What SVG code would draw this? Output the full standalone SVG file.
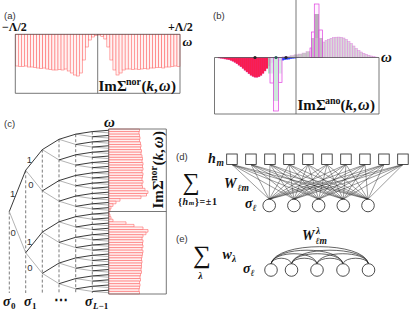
<svg xmlns="http://www.w3.org/2000/svg" width="415" height="311" viewBox="0 0 415 311">
<style>
.pl{font-family:"Liberation Sans",Arial,sans-serif;font-size:9.5px;fill:#333}
.m{font-family:"Liberation Serif","Times New Roman",serif;font-weight:bold;fill:#111}
.i{font-style:italic}
.sm{font-family:"Liberation Serif","DejaVu Serif",serif;fill:#111}
.fr{fill:none;stroke:#555;stroke-width:0.8}
.ba rect{fill:#fff2f2;stroke:#ff5a5a;stroke-width:0.5}
.bc rect{fill:#fff2f2;stroke:#ff5a5a;stroke-width:0.55;vector-effect:non-scaling-stroke}
.r rect{fill:#ff1a3c;stroke:#e0309a;stroke-width:0.4}
.bl rect{fill:#2a3cff;stroke:#4060ff;stroke-width:0.3}
.mg{fill:#fbeefb;fill-opacity:0.6;stroke:#e040e0;stroke-width:0.7}
.gy rect{fill:#9a9a9a;fill-opacity:0.55;stroke:#dca0dc;stroke-width:0.4}
.hu rect{fill:#d2d2d2;fill-opacity:0.85;stroke:#e288e2;stroke-width:0.5}
.tb{fill:none;stroke:#222;stroke-width:0.9;vector-effect:non-scaling-stroke}
.tg{fill:none;stroke:#aaa;stroke-width:0.9;vector-effect:non-scaling-stroke}
.ds{fill:none;stroke:#444;stroke-width:0.7;stroke-dasharray:3 2}
.nd{fill:#fff;stroke:#222;stroke-width:0.8}
.cn{fill:none;stroke:#222;stroke-width:0.45}
.ar{fill:none;stroke:#222;stroke-width:0.7}
</style>

<!-- panel (a) -->
<text class="pl" x="4" y="19">(a)</text>
<text class="m" font-size="12" x="2" y="30.5">−Λ/2</text>
<text class="m" font-size="12" x="168" y="30.5">+Λ/2</text>
<text class="m i" font-size="13.5" x="182.5" y="45.5">ω</text>
<g class="ba">
<rect x="15.3" y="34.3" width="3.05" height="31.7"/><rect x="18.35" y="34.3" width="3.05" height="32.2"/><rect x="21.4" y="34.3" width="3.05" height="32.2"/><rect x="24.45" y="34.3" width="3.05" height="31.7"/><rect x="27.5" y="34.3" width="3.05" height="32.7"/><rect x="30.55" y="34.3" width="3.05" height="32.7"/><rect x="33.6" y="34.3" width="3.05" height="33.2"/><rect x="36.65" y="34.3" width="3.05" height="33.7"/><rect x="39.7" y="34.3" width="3.05" height="34.2"/><rect x="42.75" y="34.3" width="3.05" height="33.7"/><rect x="45.8" y="34.3" width="3.05" height="34.7"/><rect x="48.85" y="34.3" width="3.05" height="35.2"/><rect x="51.9" y="34.3" width="3.05" height="35.7"/><rect x="54.95" y="34.3" width="3.05" height="35.7"/><rect x="58" y="34.3" width="3.05" height="35.2"/><rect x="61.05" y="34.3" width="3.05" height="35.7"/><rect x="64.1" y="34.3" width="3.05" height="34.7"/><rect x="67.15" y="34.3" width="3.05" height="36.7"/><rect x="70.2" y="34.3" width="3.05" height="38.7"/><rect x="73.25" y="34.3" width="3.05" height="40.7"/><rect x="76.3" y="34.3" width="3.05" height="41.7"/><rect x="79.35" y="34.3" width="3.05" height="38.7"/><rect x="82.4" y="34.3" width="3.05" height="25.7"/><rect x="85.45" y="34.3" width="3.05" height="12.7"/><rect x="88.5" y="34.3" width="3.05" height="5.7"/><rect x="91.55" y="34.3" width="3.05" height="2.7"/><rect x="94.6" y="34.3" width="3.05" height="1.2"/>
<rect x="97.7" y="34.3" width="3.05" height="0.7"/><rect x="100.75" y="34.3" width="3.05" height="2.2"/><rect x="103.8" y="34.3" width="3.05" height="4.7"/><rect x="106.85" y="34.3" width="3.05" height="12.7"/><rect x="109.9" y="34.3" width="3.05" height="25.7"/><rect x="112.95" y="34.3" width="3.05" height="35.7"/><rect x="116" y="34.3" width="3.05" height="40.7"/><rect x="119.05" y="34.3" width="3.05" height="38.7"/><rect x="122.1" y="34.3" width="3.05" height="35.7"/><rect x="125.15" y="34.3" width="3.05" height="34.7"/><rect x="128.2" y="34.3" width="3.05" height="34.7"/><rect x="131.25" y="34.3" width="3.05" height="35.2"/><rect x="134.3" y="34.3" width="3.05" height="34.7"/><rect x="137.35" y="34.3" width="3.05" height="35.2"/><rect x="140.4" y="34.3" width="3.05" height="34.7"/><rect x="143.45" y="34.3" width="3.05" height="34.2"/><rect x="146.5" y="34.3" width="3.05" height="34.7"/><rect x="149.55" y="34.3" width="3.05" height="33.7"/><rect x="152.6" y="34.3" width="3.05" height="33.7"/><rect x="155.65" y="34.3" width="3.05" height="33.2"/><rect x="158.7" y="34.3" width="3.05" height="33.2"/><rect x="161.75" y="34.3" width="3.05" height="33.7"/><rect x="164.8" y="34.3" width="3.05" height="32.7"/><rect x="167.85" y="34.3" width="3.05" height="32.7"/><rect x="170.9" y="34.3" width="3.05" height="32.2"/><rect x="173.95" y="34.3" width="3.05" height="31.7"/><rect x="177" y="34.3" width="3" height="32.2"/>
</g>
<path class="fr" d="M15.3 34.3H180V93.3H15.3ZM97.7 34.3V93.3"/>
<g transform="translate(98.5 90.5)"><text class="m" font-size="15"><tspan x="0" y="0">Im</tspan><tspan x="18.4" y="0">Σ</tspan><tspan x="27.5" y="-6" font-size="10">nor</tspan><tspan x="43" y="0">(</tspan><tspan x="48" y="0" class="i">k</tspan><tspan x="55.5" y="0">,</tspan><tspan x="60.5" y="0" class="i" font-size="16">ω</tspan><tspan x="72.5" y="0">)</tspan></text></g>

<!-- panel (b) -->
<text class="pl" x="213" y="19">(b)</text>
<g class="r">
<rect x="218" y="57.5" width="2" height="0.5"/><rect x="220" y="57.5" width="2" height="0.8"/><rect x="222" y="57.5" width="2" height="1.1"/><rect x="224" y="57.5" width="2" height="1.5"/><rect x="226" y="57.5" width="2" height="1.9"/><rect x="228" y="57.5" width="2" height="2.3"/><rect x="230" y="57.5" width="2" height="3"/><rect x="232" y="57.5" width="2" height="3.8"/><rect x="234" y="57.5" width="2" height="5"/><rect x="236" y="57.5" width="2" height="6.3"/><rect x="238" y="57.5" width="2" height="7.7"/><rect x="240" y="57.5" width="2" height="9.3"/><rect x="242" y="57.5" width="2" height="11"/><rect x="244" y="57.5" width="2" height="12.8"/><rect x="246" y="57.5" width="2" height="14.5"/><rect x="248" y="57.5" width="2" height="16.3"/><rect x="250" y="57.5" width="2" height="17.8"/><rect x="252" y="57.5" width="2" height="19"/><rect x="254" y="57.5" width="2" height="19.7"/><rect x="256" y="57.5" width="2" height="19.8"/><rect x="258" y="57.5" width="2" height="19.3"/><rect x="260" y="57.5" width="2" height="18"/><rect x="262" y="57.5" width="2" height="16"/><rect x="264" y="57.5" width="2" height="13.5"/><rect x="266" y="57.5" width="2" height="11"/><rect x="268" y="57.5" width="2" height="8.5"/><rect x="270" y="57.5" width="2" height="5.5"/>
</g>
<g class="bl">
<rect x="272" y="57.5" width="2" height="5"/><rect x="274" y="57.5" width="2" height="4.5"/><rect x="276" y="57.5" width="2" height="4"/><rect x="278" y="57.5" width="2" height="3.5"/><rect x="280" y="57.5" width="2" height="3.1"/><rect x="282" y="57.5" width="2" height="2.7"/><rect x="284" y="57.5" width="2" height="2.3"/><rect x="286" y="57.5" width="2" height="2"/><rect x="288" y="57.5" width="2" height="1.7"/><rect x="290" y="57.5" width="2" height="1.3"/><rect x="292" y="57.5" width="2" height="1"/><rect x="294" y="57.5" width="2" height="0.7"/><rect x="296" y="57.5" width="2" height="0.4"/><rect x="298" y="57.5" width="2" height="0.2"/>
</g>
<rect x="268" y="57.5" width="14" height="16" fill="#9ee8bc" fill-opacity="0.85"/>
<rect class="mg" x="270" y="57.5" width="3.5" height="25.5"/>
<rect class="mg" x="278.5" y="57.5" width="3.5" height="25"/>
<rect x="273.5" y="57.5" width="5" height="43.5" fill="#86e0a8"/>
<rect class="mg" x="273.5" y="57.5" width="5" height="53.5" fill="none"/>
<g class="gy">
<rect x="282" y="56.8" width="4" height="0.7"/><rect x="286" y="56.2" width="4" height="1.3"/><rect x="290" y="55.5" width="4" height="2"/><rect x="294" y="54.8" width="4" height="2.7"/><rect x="298" y="54" width="4" height="3.5"/><rect x="302" y="53" width="4" height="4.5"/><rect x="306" y="51.5" width="4" height="6"/>
</g>
<g class="hu">
<rect x="322.5" y="42" width="2.5" height="15.5"/><rect x="325" y="40.5" width="2.5" height="17"/><rect x="327.5" y="39.3" width="2.5" height="18.2"/><rect x="330" y="38.3" width="2.5" height="19.2"/><rect x="332.5" y="37.6" width="2.5" height="19.9"/><rect x="335" y="37.2" width="2.5" height="20.3"/><rect x="337.5" y="37.1" width="2.5" height="20.4"/><rect x="340" y="37.3" width="2.5" height="20.2"/><rect x="342.5" y="38" width="2.5" height="19.5"/><rect x="345" y="39.5" width="2.5" height="18"/><rect x="347.5" y="41.5" width="2.5" height="16"/><rect x="350" y="43.5" width="2.5" height="14"/><rect x="352.5" y="46" width="2.5" height="11.5"/><rect x="355" y="48.5" width="2.5" height="9"/><rect x="357.5" y="50.5" width="2.5" height="7"/><rect x="360" y="52" width="2.5" height="5.5"/><rect x="362.5" y="53.3" width="2.5" height="4.2"/><rect x="365" y="54.3" width="2.5" height="3.2"/><rect x="367.5" y="55.2" width="2.5" height="2.3"/><rect x="370" y="56" width="2.5" height="1.5"/><rect x="372.5" y="56.7" width="2.5" height="0.8"/><rect x="375" y="57.1" width="2.5" height="0.4"/>
</g>
<rect class="mg" x="310" y="48" width="2" height="9.5"/>
<rect x="311.5" y="38" width="11" height="19.5" fill="#5a5a5a" fill-opacity="0.85"/>
<rect x="314.5" y="14" width="4.5" height="24" fill="#555"/>
<rect class="mg" x="311.5" y="32" width="3" height="25.5" fill="none"/>
<rect class="mg" x="314.3" y="4" width="4.7" height="53.5" fill="none"/>
<rect class="mg" x="319" y="30" width="3.5" height="27.5" fill="none"/>
<path class="fr" d="M214.5 57.5H379M214.5 57.5V114H379V57.5M296 0V114"/>
<circle cx="255" cy="57.5" r="1.6" fill="#222"/>
<circle cx="276" cy="57.5" r="1.6" fill="#2a5a5a"/>
<circle cx="286" cy="57.5" r="1.6" fill="#223"/>
<text class="m i" font-size="15" x="381" y="61.7">ω</text>
<g transform="translate(297.5 110)"><text class="m" font-size="15"><tspan x="0" y="0">Im</tspan><tspan x="18.4" y="0">Σ</tspan><tspan x="27.5" y="-6" font-size="10">ano</tspan><tspan x="43" y="0">(</tspan><tspan x="48" y="0" class="i">k</tspan><tspan x="55.5" y="0">,</tspan><tspan x="60.5" y="0" class="i" font-size="16">ω</tspan><tspan x="72.5" y="0">)</tspan></text></g>

<!-- panel (c) -->
<text class="pl" x="4" y="127">(c)</text>
<text class="m i" font-size="15" x="104" y="126.5">ω</text>
<path class="ds" d="M9.3 211.5V293M25.7 170.3V293M42.3 149.6V293M59 139.3V293M75.7 134.2V293M92.3 131.6V293"/>
<g transform="translate(0 129) scale(1 2.578125)">
<g class="bc">
<rect x="108.7" y="0" width="30.8" height="1"/><rect x="108.7" y="1" width="30.3" height="1"/><rect x="108.7" y="2" width="30.8" height="1"/><rect x="108.7" y="3" width="31.3" height="1"/><rect x="108.7" y="4" width="30.8" height="1"/><rect x="108.7" y="5" width="31.8" height="1"/><rect x="108.7" y="6" width="32.3" height="1"/><rect x="108.7" y="7" width="31.8" height="1"/><rect x="108.7" y="8" width="32.8" height="1"/><rect x="108.7" y="9" width="32.3" height="1"/><rect x="108.7" y="10" width="33.3" height="1"/><rect x="108.7" y="11" width="33.8" height="1"/><rect x="108.7" y="12" width="33.3" height="1"/><rect x="108.7" y="13" width="34.3" height="1"/><rect x="108.7" y="14" width="33.8" height="1"/><rect x="108.7" y="15" width="34.3" height="1"/><rect x="108.7" y="16" width="33.3" height="1"/><rect x="108.7" y="17" width="34.3" height="1"/><rect x="108.7" y="18" width="33.8" height="1"/><rect x="108.7" y="19" width="33.3" height="1"/><rect x="108.7" y="20" width="34.3" height="1"/><rect x="108.7" y="21" width="33.3" height="1"/><rect x="108.7" y="22" width="33.8" height="1"/><rect x="108.7" y="23" width="36.3" height="1"/><rect x="108.7" y="24" width="39.3" height="1"/><rect x="108.7" y="25" width="37.8" height="1"/><rect x="108.7" y="26" width="32.3" height="1"/><rect x="108.7" y="27" width="11.3" height="1"/><rect x="108.7" y="28" width="7.3" height="1"/><rect x="108.7" y="29" width="4.3" height="1"/><rect x="108.7" y="30" width="2.3" height="1"/><rect x="108.7" y="31" width="1.3" height="1"/>
<rect x="108.7" y="32" width="0.3" height="1"/><rect x="108.7" y="33" width="1.3" height="1"/><rect x="108.7" y="34" width="2.3" height="1"/><rect x="108.7" y="35" width="4.3" height="1"/><rect x="108.7" y="36" width="17.3" height="1"/><rect x="108.7" y="37" width="25.3" height="1"/><rect x="108.7" y="38" width="34.3" height="1"/><rect x="108.7" y="39" width="39.3" height="1"/><rect x="108.7" y="40" width="37.3" height="1"/><rect x="108.7" y="41" width="34.3" height="1"/><rect x="108.7" y="42" width="33.3" height="1"/><rect x="108.7" y="43" width="34.3" height="1"/><rect x="108.7" y="44" width="33.8" height="1"/><rect x="108.7" y="45" width="34.3" height="1"/><rect x="108.7" y="46" width="33.3" height="1"/><rect x="108.7" y="47" width="34.3" height="1"/><rect x="108.7" y="48" width="33.8" height="1"/><rect x="108.7" y="49" width="33.3" height="1"/><rect x="108.7" y="50" width="32.8" height="1"/><rect x="108.7" y="51" width="33.3" height="1"/><rect x="108.7" y="52" width="32.8" height="1"/><rect x="108.7" y="53" width="32.8" height="1"/><rect x="108.7" y="54" width="32.3" height="1"/><rect x="108.7" y="55" width="32.8" height="1"/><rect x="108.7" y="56" width="31.8" height="1"/><rect x="108.7" y="57" width="31.3" height="1"/><rect x="108.7" y="58" width="31.8" height="1"/><rect x="108.7" y="59" width="30.8" height="1"/><rect x="108.7" y="60" width="31.3" height="1"/><rect x="108.7" y="61" width="30.8" height="1"/><rect x="108.7" y="62" width="30.3" height="1"/><rect x="108.7" y="63" width="30.8" height="1"/>
</g>
<g id="tree">
<path class="tg" d="M9.3 32l16.4 16M25.7 16l16.6 8M25.7 48l16.6 8M42.3 8l16.7 4M42.3 24l16.7 4M42.3 40l16.7 4M42.3 56l16.7 4M59 4l16.7 2M59 12l16.7 2M59 20l16.7 2M59 28l16.7 2M59 36l16.7 2M59 44l16.7 2M59 52l16.7 2M59 60l16.7 2M75.7 2l16.6 1M75.7 6l16.6 1M75.7 10l16.6 1M75.7 14l16.6 1M75.7 18l16.6 1M75.7 22l16.6 1M75.7 26l16.6 1M75.7 30l16.6 1M75.7 34l16.6 1M75.7 38l16.6 1M75.7 42l16.6 1M75.7 46l16.6 1M75.7 50l16.6 1M75.7 54l16.6 1M75.7 58l16.6 1M75.7 62l16.6 1M92.3 1l16.4 .5M92.3 3l16.4 .5M92.3 5l16.4 .5M92.3 7l16.4 .5M92.3 9l16.4 .5M92.3 11l16.4 .5M92.3 13l16.4 .5M92.3 15l16.4 .5M92.3 17l16.4 .5M92.3 19l16.4 .5M92.3 21l16.4 .5M92.3 23l16.4 .5M92.3 25l16.4 .5M92.3 27l16.4 .5M92.3 29l16.4 .5M92.3 31l16.4 .5M92.3 33l16.4 .5M92.3 35l16.4 .5M92.3 37l16.4 .5M92.3 39l16.4 .5M92.3 41l16.4 .5M92.3 43l16.4 .5M92.3 45l16.4 .5M92.3 47l16.4 .5M92.3 49l16.4 .5M92.3 51l16.4 .5M92.3 53l16.4 .5M92.3 55l16.4 .5M92.3 57l16.4 .5M92.3 59l16.4 .5M92.3 61l16.4 .5M92.3 63l16.4 .5"/>
<path class="tb" d="M9.3 32l16.4-16M25.7 16l16.6-8M25.7 48l16.6-8M42.3 8l16.7-4M42.3 24l16.7-4M42.3 40l16.7-4M42.3 56l16.7-4M59 4l16.7-2M59 12l16.7-2M59 20l16.7-2M59 28l16.7-2M59 36l16.7-2M59 44l16.7-2M59 52l16.7-2M59 60l16.7-2M75.7 2l16.6-1M75.7 6l16.6-1M75.7 10l16.6-1M75.7 14l16.6-1M75.7 18l16.6-1M75.7 22l16.6-1M75.7 26l16.6-1M75.7 30l16.6-1M75.7 34l16.6-1M75.7 38l16.6-1M75.7 42l16.6-1M75.7 46l16.6-1M75.7 50l16.6-1M75.7 54l16.6-1M75.7 58l16.6-1M75.7 62l16.6-1M92.3 1l16.4-.5M92.3 3l16.4-.5M92.3 5l16.4-.5M92.3 7l16.4-.5M92.3 9l16.4-.5M92.3 11l16.4-.5M92.3 13l16.4-.5M92.3 15l16.4-.5M92.3 17l16.4-.5M92.3 19l16.4-.5M92.3 21l16.4-.5M92.3 23l16.4-.5M92.3 25l16.4-.5M92.3 27l16.4-.5M92.3 29l16.4-.5M92.3 31l16.4-.5M92.3 33l16.4-.5M92.3 35l16.4-.5M92.3 37l16.4-.5M92.3 39l16.4-.5M92.3 41l16.4-.5M92.3 43l16.4-.5M92.3 45l16.4-.5M92.3 47l16.4-.5M92.3 49l16.4-.5M92.3 51l16.4-.5M92.3 53l16.4-.5M92.3 55l16.4-.5M92.3 57l16.4-.5M92.3 59l16.4-.5M92.3 61l16.4-.5M92.3 63l16.4-.5"/>
</g>
</g>
<path class="fr" d="M108.7 129H166.3V294H108.7ZM108.7 211.5H166.3"/>
<g transform="translate(163 208.5) rotate(-90)"><text class="m" font-size="15"><tspan x="0" y="0">Im</tspan><tspan x="18.4" y="0">Σ</tspan><tspan x="27.5" y="-6" font-size="10">nor</tspan><tspan x="43" y="0">(</tspan><tspan x="48" y="0" class="i">k</tspan><tspan x="55.5" y="0">,</tspan><tspan x="60.5" y="0" class="i" font-size="16">ω</tspan><tspan x="72.5" y="0">)</tspan></text></g>
<text class="pl" x="26.7" y="163.3">1</text>
<text class="pl" x="28.3" y="187.7">0</text>
<text class="pl" x="10" y="197.3">1</text>
<text class="pl" x="10.5" y="236">0</text>
<text class="pl" x="26.7" y="245">1</text>
<text class="pl" x="27.3" y="270.7">0</text>
<text class="m" font-size="14"><tspan class="i" x="3" y="306">σ</tspan><tspan x="11" y="309" font-size="9">0</tspan></text>
<text class="m" font-size="14"><tspan class="i" x="24" y="306">σ</tspan><tspan x="32" y="309" font-size="9">1</tspan></text>
<text class="m" font-size="14" x="54" y="305">⋯</text>
<text class="m" font-size="14"><tspan class="i" x="85" y="306">σ</tspan><tspan x="93" y="309" font-size="9"><tspan class="i">L</tspan>−1</tspan></text>

<!-- panel (d) -->
<text class="pl" x="176" y="160">(d)</text>
<text class="sm" font-size="24" text-anchor="middle" x="191" y="190">∑</text>
<text class="m" font-size="10" x="178" y="205" textLength="39">{<tspan class="i">h</tspan><tspan font-size="7" class="i">m</tspan>}=±1</text>
<text class="m" font-size="14"><tspan class="i" x="208" y="162.5">h</tspan><tspan class="i" x="216.5" y="165.5" font-size="9.5">m</tspan></text>
<text class="m" font-size="14"><tspan class="i" x="224" y="187.5">W</tspan><tspan class="i" x="237.5" y="191" font-size="9.5">ℓm</tspan></text>
<text class="m" font-size="14"><tspan class="i" x="245" y="208.3">σ</tspan><tspan class="i" x="252.5" y="210.5" font-size="9.5">ℓ</tspan></text>
<g id="connectors">
<path class="cn" d="M232 164.5L269.2 199.2M232 164.5L293.9 199.2M232 164.5L318.6 199.2M232 164.5L343.3 199.2M232 164.5L368 199.2M251 164.5L269.2 199.2M251 164.5L293.9 199.2M251 164.5L318.6 199.2M251 164.5L343.3 199.2M251 164.5L368 199.2M270 164.5L269.2 199.2M270 164.5L293.9 199.2M270 164.5L318.6 199.2M270 164.5L343.3 199.2M270 164.5L368 199.2M289 164.5L269.2 199.2M289 164.5L293.9 199.2M289 164.5L318.6 199.2M289 164.5L343.3 199.2M289 164.5L368 199.2M308 164.5L269.2 199.2M308 164.5L293.9 199.2M308 164.5L318.6 199.2M308 164.5L343.3 199.2M308 164.5L368 199.2M327 164.5L269.2 199.2M327 164.5L293.9 199.2M327 164.5L318.6 199.2M327 164.5L343.3 199.2M327 164.5L368 199.2M346 164.5L269.2 199.2M346 164.5L293.9 199.2M346 164.5L318.6 199.2M346 164.5L343.3 199.2M346 164.5L368 199.2M365 164.5L269.2 199.2M365 164.5L293.9 199.2M365 164.5L318.6 199.2M365 164.5L343.3 199.2M365 164.5L368 199.2M384 164.5L269.2 199.2M384 164.5L293.9 199.2M384 164.5L318.6 199.2M384 164.5L343.3 199.2M384 164.5L368 199.2M403 164.5L269.2 199.2M403 164.5L293.9 199.2M403 164.5L318.6 199.2M403 164.5L343.3 199.2M403 164.5L368 199.2"/>
<path class="ar" d="M271 263.7C276 241 363.5 241 368.5 263.7M271 263.7C275 245.7 339 245.7 343 263.7M291.5 263.7C295.5 245.7 364.5 245.7 368.5 263.7M271 263.7C274 250.4 314 250.4 317 263.7M291.5 263.7C294.5 250.4 340 250.4 343 263.7M317 263.7C320 250.4 365.5 250.4 368.5 263.7M271 263.7C273 256.4 289.5 256.4 291.5 263.7M291.5 263.7C293.5 256.4 315 256.4 317 263.7M317 263.7C319 256.4 341 256.4 343 263.7M343 263.7C345 256.4 366.5 256.4 368.5 263.7"/>
</g>
<g id="h1"><rect class="nd" x="226.7" y="154" width="10.5" height="10.5"/></g>
<g id="h2"><rect class="nd" x="245.7" y="154" width="10.5" height="10.5"/></g>
<g id="h3"><rect class="nd" x="264.7" y="154" width="10.5" height="10.5"/></g>
<g id="h4"><rect class="nd" x="283.7" y="154" width="10.5" height="10.5"/></g>
<g id="h5"><rect class="nd" x="302.7" y="154" width="10.5" height="10.5"/></g>
<g id="h6"><rect class="nd" x="321.7" y="154" width="10.5" height="10.5"/></g>
<g id="h7"><rect class="nd" x="340.7" y="154" width="10.5" height="10.5"/></g>
<g id="h8"><rect class="nd" x="359.7" y="154" width="10.5" height="10.5"/></g>
<g id="h9"><rect class="nd" x="378.7" y="154" width="10.5" height="10.5"/></g>
<g id="h10"><rect class="nd" x="397.7" y="154" width="10.5" height="10.5"/></g>
<g id="d-s1"><circle class="nd" cx="269.2" cy="205.5" r="6.3"/></g>
<g id="d-s2"><circle class="nd" cx="293.9" cy="205.5" r="6.3"/></g>
<g id="d-s3"><circle class="nd" cx="318.6" cy="205.5" r="6.3"/></g>
<g id="d-s4"><circle class="nd" cx="343.3" cy="205.5" r="6.3"/></g>
<g id="d-s5"><circle class="nd" cx="368" cy="205.5" r="6.3"/></g>

<!-- panel (e) -->
<text class="pl" x="176" y="242">(e)</text>
<text class="sm" font-size="25" text-anchor="middle" x="202" y="263">∑</text>
<text class="m i" font-size="10" text-anchor="middle" x="200.5" y="279">λ</text>
<text class="m" font-size="14"><tspan class="i" x="222.5" y="259">w</tspan><tspan class="i" x="232" y="262" font-size="9.5">λ</tspan></text>
<text class="m" font-size="14"><tspan class="i" x="243" y="273">σ</tspan><tspan class="i" x="250.5" y="275.5" font-size="9.5">ℓ</tspan></text>
<text class="m" font-size="14"><tspan class="i" x="302" y="240">W</tspan><tspan class="i" x="316" y="233.5" font-size="9.5">λ</tspan><tspan class="i" x="315.5" y="243.5" font-size="9.5">ℓm</tspan></text>
<g id="e-s1"><circle class="nd" cx="271" cy="270" r="6.3"/></g>
<g id="e-s2"><circle class="nd" cx="291.5" cy="270" r="6.3"/></g>
<g id="e-s3"><circle class="nd" cx="317" cy="270" r="6.3"/></g>
<g id="e-s4"><circle class="nd" cx="343" cy="270" r="6.3"/></g>
<g id="e-s5"><circle class="nd" cx="368.5" cy="270" r="6.3"/></g>
</svg>
